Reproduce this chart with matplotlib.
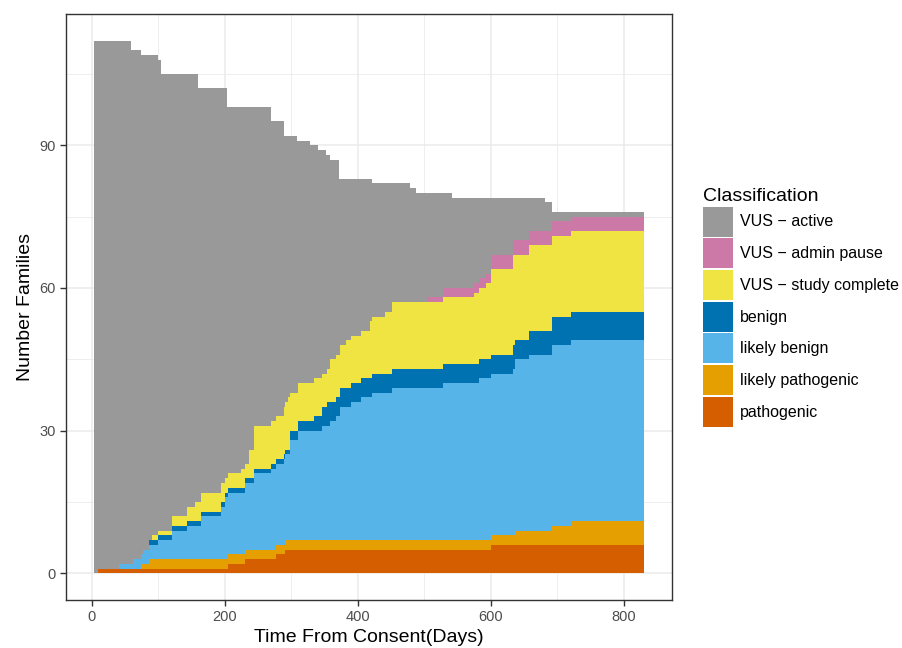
import numpy as np
import matplotlib.pyplot as plt
from matplotlib.patches import Patch

plt.rcParams['font.family'] = ['Liberation Sans', 'DejaVu Sans']

# days since consent where the counts change
days = [3, 9, 42, 60, 63, 75, 77, 86, 91, 100,
        104, 121, 144, 156, 160, 164, 195, 201, 203, 205,
        224, 230, 237, 244, 269, 277, 289, 291, 295, 299,
        309, 311, 329, 334, 340, 347, 352, 354, 359, 368,
        372, 374, 382, 390, 405, 418, 421, 422, 441, 451,
        478, 488, 504, 528, 542, 575, 583, 593, 600, 633,
        636, 657, 682, 692, 720, 831]

pathogenic = [0, 1, 1, 1, 1, 1, 1, 1, 1, 1,
              1, 1, 1, 1, 1, 1, 1, 1, 1, 2,
              2, 3, 3, 3, 3, 4, 4, 5, 5, 5,
              5, 5, 5, 5, 5, 5, 5, 5, 5, 5,
              5, 5, 5, 5, 5, 5, 5, 5, 5, 5,
              5, 5, 5, 5, 5, 5, 5, 5, 6, 6,
              6, 6, 6, 6, 6, 6]

likely_pathogenic = [0, 0, 0, 0, 0, 1, 1, 2, 2, 2,
                     2, 2, 2, 2, 2, 2, 2, 2, 2, 2,
                     2, 2, 2, 2, 2, 2, 2, 2, 2, 2,
                     2, 2, 2, 2, 2, 2, 2, 2, 2, 2,
                     2, 2, 2, 2, 2, 2, 2, 2, 2, 2,
                     2, 2, 2, 2, 2, 2, 2, 2, 2, 2,
                     3, 3, 3, 4, 5, 5]

likely_benign = [0, 0, 1, 1, 2, 2, 3, 3, 3, 4,
                 4, 6, 7, 7, 7, 9, 11, 13, 13, 13,
                 13, 14, 14, 16, 17, 17, 18, 18, 18, 21,
                 21, 23, 23, 23, 23, 24, 24, 24, 25, 26,
                 26, 28, 28, 29, 30, 30, 30, 31, 31, 32,
                 32, 32, 32, 33, 33, 33, 34, 34, 34, 35,
                 36, 37, 37, 38, 38, 38]

benign = [0, 0, 0, 0, 0, 0, 0, 1, 1, 1,
          1, 1, 1, 1, 1, 1, 1, 1, 1, 1,
          1, 1, 1, 1, 1, 1, 1, 1, 1, 2,
          2, 2, 2, 3, 3, 4, 4, 5, 4, 4,
          4, 4, 4, 4, 4, 4, 4, 4, 4, 4,
          4, 4, 4, 4, 4, 4, 4, 4, 4, 5,
          4, 5, 5, 6, 6, 6]

vus_complete = [0, 0, 0, 0, 0, 0, 0, 0, 1, 1,
                1, 2, 3, 4, 4, 4, 4, 3, 3, 3,
                4, 3, 6, 9, 9, 9, 10, 10, 11, 8,
                8, 8, 8, 8, 8, 7, 7, 7, 9, 9,
                9, 9, 10, 10, 10, 12, 12, 12, 13, 14,
                14, 14, 14, 14, 14, 15, 15, 16, 18, 19,
                18, 18, 18, 17, 17, 17]

vus_pause = [0, 0, 0, 0, 0, 0, 0, 0, 0, 0,
             0, 0, 0, 0, 0, 0, 0, 0, 0, 0,
             0, 0, 0, 0, 0, 0, 0, 0, 0, 0,
             0, 0, 0, 0, 0, 0, 0, 0, 0, 0,
             0, 0, 0, 0, 0, 0, 0, 0, 0, 0,
             0, 0, 1, 2, 2, 2, 2, 2, 3, 3,
             3, 3, 3, 3, 3, 3]

vus_active = [112, 111, 110, 108, 107, 105, 104, 102, 101, 99,
              96, 93, 91, 90, 87, 85, 83, 82, 78, 77,
              76, 75, 72, 67, 63, 62, 57, 56, 55, 54,
              53, 51, 50, 49, 48, 47, 46, 45, 42, 41,
              37, 35, 34, 33, 32, 30, 29, 28, 27, 25,
              24, 23, 22, 20, 19, 18, 17, 16, 12, 9,
              9, 7, 6, 2, 1, 1]

labels = ['pathogenic', 'likely pathogenic', 'likely benign', 'benign',
          'VUS \u2212 study complete', 'VUS \u2212 admin pause', 'VUS \u2212 active']
colors = ['#D55E00', '#E69F00', '#56B4E9', '#0072B2', '#F0E442', '#CC79A7', '#999999']
layers = [pathogenic, likely_pathogenic, likely_benign, benign,
          vus_complete, vus_pause, vus_active]

fig = plt.figure(figsize=(9.03, 6.48), dpi=100)
ax = fig.add_axes([66 / 903, 1 - 600 / 648, 606 / 903, 586 / 648])

x = np.array(days)
tops = np.cumsum(np.array(layers), axis=0)
# draw from the tallest stack down so no seams show between layers
for i in range(len(layers) - 1, -1, -1):
    ax.fill_between(x, 0, tops[i], step='post', color=colors[i], linewidth=0, zorder=2)

ax.set_xlim(-38.4, 872.4)
ax.set_ylim(-5.6, 117.6)
ax.set_xticks([0, 200, 400, 600, 800])
ax.set_xticks([100, 300, 500, 700], minor=True)
ax.set_yticks([0, 30, 60, 90])
ax.set_yticks([15, 45, 75, 105], minor=True)
ax.grid(which='major', color='#EBEBEB', linewidth=1.1, zorder=0)
ax.grid(which='minor', color='#EBEBEB', linewidth=0.6, zorder=0)
ax.set_axisbelow(True)
for s in ax.spines.values():
    s.set_color('#333333')
    s.set_linewidth(1.0)
ax.tick_params(which='major', colors='#333333', labelcolor='#4D4D4D', length=4, width=1, labelsize=10.5)
ax.tick_params(which='minor', length=0)

ax.set_xlabel('Time From Consent(Days)', fontsize=14, labelpad=3)
ax.set_ylabel('Number Families', fontsize=14, labelpad=4)

handles = [Patch(facecolor=c, edgecolor='none') for c in colors[::-1]]
fig.legend(handles, labels[::-1], title='Classification', loc='upper left',
           bbox_to_anchor=(703 / 903, 1 - 188 / 648), frameon=False,
           fontsize=11.5, title_fontsize=14, handlelength=1.9, handleheight=2.52,
           labelspacing=0.1, handletextpad=0.4, borderpad=0, borderaxespad=0,
           alignment='left')

fig.savefig('out.png', dpi=100)
